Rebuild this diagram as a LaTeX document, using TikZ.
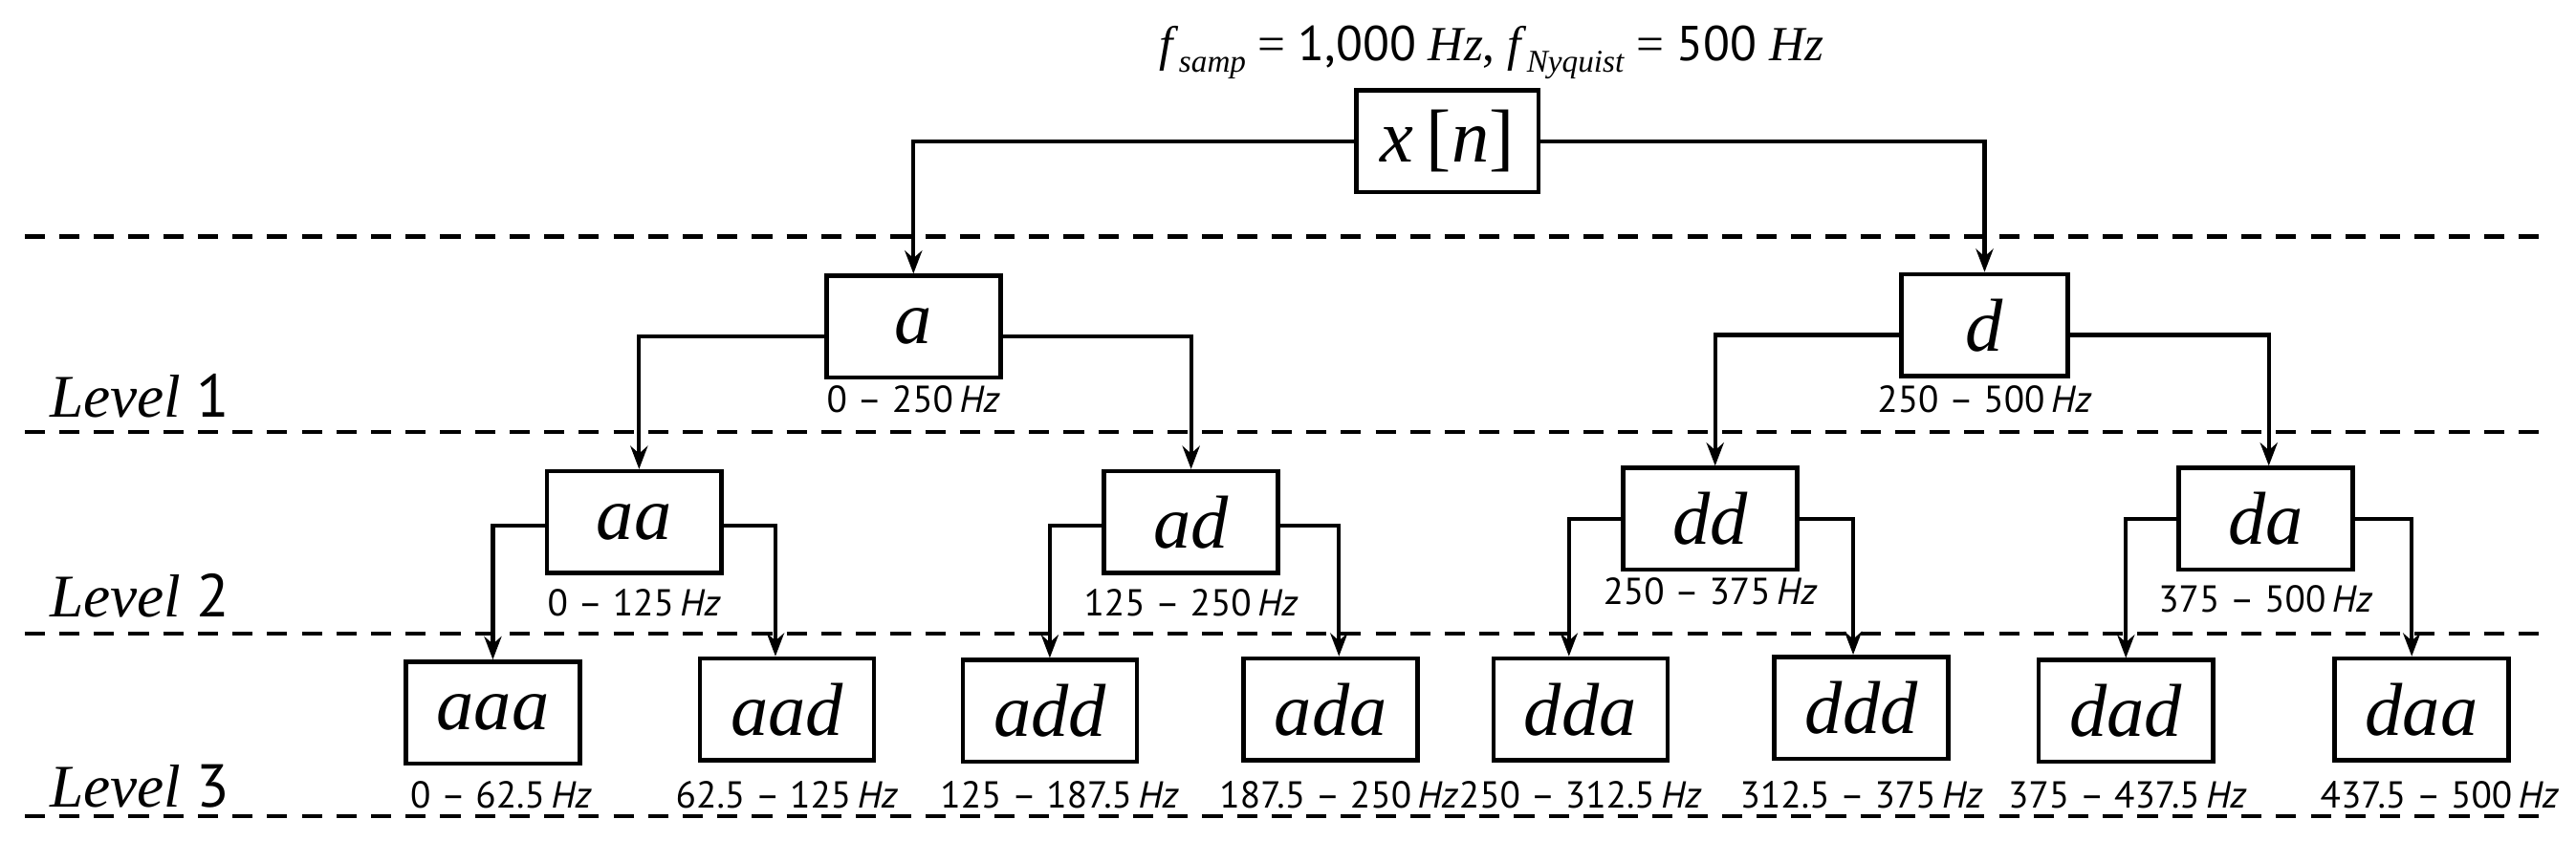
\documentclass[tikz,border=0pt]{standalone}
\usepackage{fontspec}
\setmainfont{Liberation Serif}
\setsansfont{PT Sans}
\usetikzlibrary{arrows.meta}
\begin{document}
\begin{tikzpicture}[x=0.02cm,y=-0.02cm,
  box/.style={draw,line width=1.5pt,minimum width=2.12cm,minimum height=1.24cm,inner sep=0pt,font=\fontsize{26}{30}\selectfont\itshape},
  freq/.style={font=\fontsize{13}{15}\selectfont\sffamily,inner sep=0pt},
  lvl/.style={font=\fontsize{21}{24}\selectfont,anchor=west,inner sep=0pt},
  arr/.style={line width=1.4pt,-{Stealth[length=8pt,width=6pt]}},
  dashln/.style={line width=1.5pt,dash pattern=on 7pt off 5pt}]
\useasboundingbox (0,0) rectangle (1568,512);
\newcommand{\hz}[1]{\textsf{#1}\,\textit{Hz}}
% dashed lines
\foreach \yy/\nm in {144/l0,263/l1,386/l2,497/l3}{\draw[dashln] (15,\yy) coordinate (\nm s) -- (1553,\yy) coordinate (\nm e);}
\node[lvl] (L1) at (30,241) {\textit{Level} \textsf{1}};
\node[lvl] (L2) at (30,363) {\textit{Level} \textsf{2}};
\node[lvl] (L3) at (30,479) {\textit{Level} \textsf{3}};
\node[font=\fontsize{17}{20}\selectfont,inner sep=0pt] (title) at (908,32) {\textit{f}\raisebox{-0.5ex}{\fontsize{11}{12}\selectfont\textit{samp}} = \textsf{1,000} \textit{Hz}, \textit{f}\raisebox{-0.5ex}{\fontsize{11}{12}\selectfont\textit{Nyquist}} = \textsf{500} \textit{Hz}};
\node[box,minimum width=2.22cm] (x) at (881,86) {x\,\upshape[\itshape n\upshape]};
\node[box] (a) at (556,199) {a};
\node[box,minimum width=2.02cm] (d) at (1208,198) {d};
\node[box] (aa) at (386,318) {aa};
\node[box] (ad) at (725,318) {ad};
\node[box] (dd) at (1041,316) {dd};
\node[box] (da) at (1379,316) {da};
\node[box] (aaa) at (300,434) {aaa};
\node[box] (aad) at (479,432) {aad};
\node[box] (add) at (639,433) {add};
\node[box] (ada) at (810,432) {ada};
\node[box] (dda) at (962,432) {dda};
\node[box] (ddd) at (1133,431) {ddd};
\node[box] (dad) at (1294,433) {dad};
\node[box] (daa) at (1474,432) {daa};
\node[freq] (fa) at (556,243) {\hz{0 -- 250}};
\node[freq] (fd) at (1208,243) {\hz{250 -- 500}};
\node[freq] (faa) at (386,367) {\hz{0 -- 125}};
\node[freq] (fad) at (725,367) {\hz{125 -- 250}};
\node[freq] (fdd) at (1041,360) {\hz{250 -- 375}};
\node[freq] (fda) at (1379,365) {\hz{375 -- 500}};
\node[freq] at (305,484) {\hz{0 -- 62.5}};
\node[freq] at (479,484) {\hz{62.5 -- 125}};
\node[freq] at (645,484) {\hz{125 -- 187.5}};
\node[freq] at (815,484) {\hz{187.5 -- 250}};
\node[freq] at (962,484) {\hz{250 -- 312.5}};
\node[freq] at (1133,484) {\hz{312.5 -- 375}};
\node[freq] at (1295,484) {\hz{375 -- 437.5}};
\node[freq] at (1485,484) {\hz{437.5 -- 500}};
% connectors
\draw[arr] (x.west) -| (a.north);
\draw[arr] (x.east) -| (d.north);
\draw[arr] ([yshift=-0.12cm]a.west) -| ([xshift=0.06cm]aa.north);
\draw[arr] ([yshift=-0.12cm]a.east) -| (ad.north);
\draw[arr] ([yshift=-0.12cm]d.west) -| ([xshift=0.06cm]dd.north);
\draw[arr] ([yshift=-0.12cm]d.east) -| ([xshift=0.04cm]da.north);
\draw[arr] ([yshift=-0.04cm]aa.west) -| (aaa.north);
\draw[arr] ([yshift=-0.04cm]aa.east) -| ([xshift=-0.14cm]aad.north);
\draw[arr] ([yshift=-0.04cm]ad.west) -| (add.north);
\draw[arr] ([yshift=-0.04cm]ad.east) -| ([xshift=0.1cm]ada.north);
\draw[arr] (dd.west) -| ([xshift=-0.14cm]dda.north);
\draw[arr] (dd.east) -| ([xshift=-0.1cm]ddd.north);
\draw[arr] (da.west) -| (dad.north);
\draw[arr] (da.east) -| ([xshift=-0.12cm]daa.north);
\end{tikzpicture}
\end{document}
